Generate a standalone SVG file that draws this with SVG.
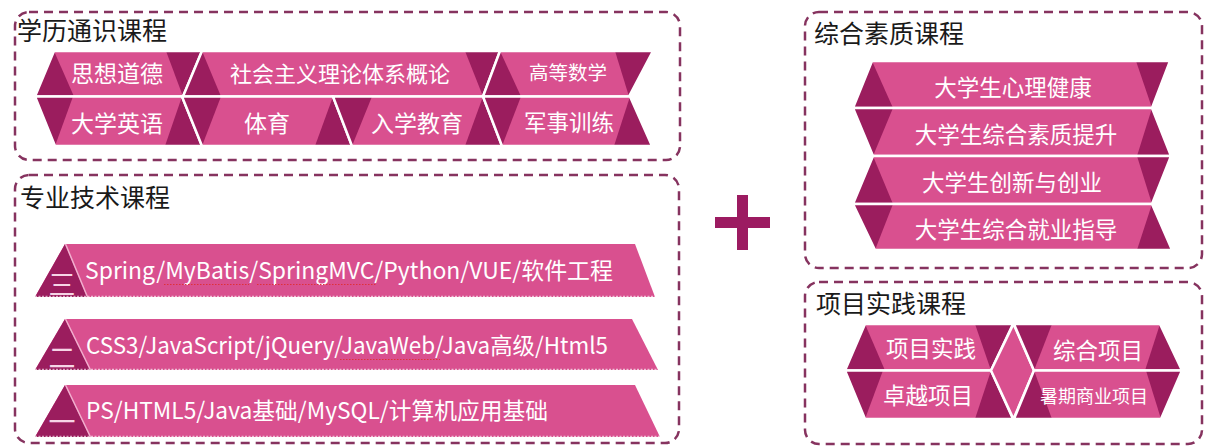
<svg xmlns="http://www.w3.org/2000/svg" width="1205" height="447" viewBox="0 0 1205 447">
<style>
.pk{fill:#D9508F}
.dk{fill:#9B1D5E}
.sep{fill:none;stroke:#fff;stroke-width:2.5;stroke-linejoin:miter}
.box{fill:none;stroke:#86335F;stroke-width:2.5;stroke-dasharray:9 6}
.ttl{font-family:"Noto Sans CJK SC",sans-serif;font-size:25px;fill:#1a1a1a}
.lbl{font-family:"Noto Sans CJK SC",sans-serif;fill:#fff;text-anchor:middle}
.bt{font-family:"Noto Sans CJK SC",sans-serif;font-size:23px;fill:#fff}
.num{font-family:"Noto Sans CJK SC",sans-serif;font-size:27px;fill:#F6D5E6;text-anchor:middle}
.edge{stroke:#F2AFCF;stroke-width:1.5;fill:none}
.dots{stroke:#fff;stroke-width:1;stroke-dasharray:2 1.5;opacity:0.8}
.sq{stroke:#E0303A;stroke-width:1.2;stroke-dasharray:1.5 1.5;fill:none}
</style>
<rect width="1205" height="447" fill="#fff"/>

<!-- Box 1 -->
<g id="box-general">
<rect class="box" x="15" y="12" width="665" height="148" rx="14"/>
<text class="ttl" x="17" y="40">学历通识课程</text>
</g>
<g id="c-sxdd">
<polygon class="pk" points="54,51 202,51 183,96.5 35,96.5"/>
<polygon class="dk" points="54,51 35,96.5 74,96.5"/>
<polygon class="dk" points="166,51 202,51 183,96.5"/>
<polygon class="sep" points="54,51 202,51 183,96.5 35,96.5"/>
<text class="lbl" x="117" y="81.5" font-size="23">思想道德</text>
</g>
<g id="c-shzy">
<polygon class="pk" points="202,51 500,51 483,96.5 183,96.5"/>
<polygon class="dk" points="202,51 183,96.5 221,96.5"/>
<polygon class="dk" points="465,51 500,51 483,96.5"/>
<polygon class="sep" points="202,51 500,51 483,96.5 183,96.5"/>
<text class="lbl" x="340" y="82" font-size="22">社会主义理论体系概论</text>
</g>
<g id="c-gdsx">
<polygon class="pk" points="500,51 653,51 629,96.5 483,96.5"/>
<polygon class="dk" points="500,51 483,96.5 521,96.5"/>
<polygon class="dk" points="615,51 653,51 629,96.5"/>
<polygon class="sep" points="500,51 653,51 629,96.5 483,96.5"/>
<text class="lbl" x="568" y="80.2" font-size="19.5">高等数学</text>
</g>
<g id="c-dxyy">
<polygon class="pk" points="35,96.5 182,96.5 202,146 55,146"/>
<polygon class="dk" points="35,96.5 73,96.5 55,146"/>
<polygon class="dk" points="182,96.5 165,146 202,146"/>
<polygon class="sep" points="35,96.5 182,96.5 202,146 55,146"/>
<text class="lbl" x="117" y="131.5" font-size="23">大学英语</text>
</g>
<g id="c-ty">
<polygon class="pk" points="182,96.5 333,96.5 352,146 202,146"/>
<polygon class="dk" points="182,96.5 221,96.5 202,146"/>
<polygon class="dk" points="333,96.5 315,146 352,146"/>
<polygon class="sep" points="182,96.5 333,96.5 352,146 202,146"/>
<text class="lbl" x="267" y="131.5" font-size="23">体育</text>
</g>
<g id="c-rxjy">
<polygon class="pk" points="333,96.5 483,96.5 502,146 352,146"/>
<polygon class="dk" points="333,96.5 372,96.5 352,146"/>
<polygon class="dk" points="483,96.5 465,146 502,146"/>
<polygon class="sep" points="333,96.5 483,96.5 502,146 352,146"/>
<text class="lbl" x="417" y="131.5" font-size="23">入学教育</text>
</g>
<g id="c-jsxl">
<polygon class="pk" points="483,96.5 630,96.5 652,146 502,146"/>
<polygon class="dk" points="483,96.5 521,96.5 502,146"/>
<polygon class="dk" points="630,96.5 614,146 652,146"/>
<polygon class="sep" points="483,96.5 630,96.5 652,146 502,146"/>
<text class="lbl" x="569" y="131.3" font-size="22.5">军事训练</text>
</g>

<!-- Box 2 -->
<g id="box-tech">
<rect class="box" x="15" y="175" width="664" height="268" rx="14"/>
<text class="ttl" x="20" y="206.5">专业技术课程</text>
</g>
<g id="bar-3">
<polygon class="pk" points="65,244 635,244 655,297 35,297"/>
<polygon class="dk" points="65,244 35,297 87,297"/>
<line class="edge" x1="65.5" y1="244" x2="87.5" y2="297"/>
<line class="dots" x1="35" y1="296.3" x2="655" y2="296.3"/>
<text class="num" x="62" y="294.6">三</text>
<text class="bt" x="85" y="279" textLength="528" lengthAdjust="spacingAndGlyphs">Spring/MyBatis/SpringMVC/Python/VUE/软件工程</text>
<path class="sq" d="M164,284.5 H249 M257,284.5 H377"/>
</g>
<g id="bar-2">
<polygon class="pk" points="65,319 632,319 658,370 35,370"/>
<polygon class="dk" points="65,319 35,370 90,370"/>
<line class="edge" x1="65.5" y1="319" x2="90.5" y2="370"/>
<line class="dots" x1="35" y1="369.3" x2="658" y2="369.3"/>
<text class="num" x="62" y="368">二</text>
<text class="bt" x="86" y="354" textLength="522" lengthAdjust="spacingAndGlyphs">CSS3/JavaScript/jQuery/JavaWeb/Java高级/Html5</text>
<path class="sq" d="M340,359.5 H440"/>
</g>
<g id="bar-1">
<polygon class="pk" points="65,385 635,385 660,437 35,437"/>
<polygon class="dk" points="65,385 35,437 90,437"/>
<line class="edge" x1="65.5" y1="385" x2="90.5" y2="437"/>
<line class="dots" x1="35" y1="436.3" x2="660" y2="436.3"/>
<text class="num" x="62" y="432">一</text>
<text class="bt" x="86" y="419" textLength="462" lengthAdjust="spacingAndGlyphs">PS/HTML5/Java基础/MySQL/计算机应用基础</text>
</g>

<!-- Plus -->
<g id="plus">
<rect x="737" y="195" width="11" height="55" fill="#9C1B61"/>
<rect x="715" y="217" width="55" height="11" fill="#9C1B61"/>
</g>

<!-- Box 3 -->
<g id="box-quality">
<rect class="box" x="805" y="12" width="397" height="256" rx="14"/>
<text class="ttl" x="814" y="43">综合素质课程</text>
</g>
<g id="q-1">
<polygon class="pk" points="872,61 1170,61 1152,108 853,108"/>
<polygon class="dk" points="872,61 853,108 893,108"/>
<polygon class="dk" points="1136,61 1170,61 1152,108"/>
<polygon class="sep" points="872,61 1170,61 1152,108 853,108"/>
<text class="lbl" x="1013" y="95.8" font-size="22.5">大学生心理健康</text>
</g>
<g id="q-2">
<polygon class="pk" points="853,108 1152,108 1171,156 873,156"/>
<polygon class="dk" points="853,108 893,108 873,156"/>
<polygon class="dk" points="1152,108 1137,156 1171,156"/>
<polygon class="sep" points="853,108 1152,108 1171,156 873,156"/>
<text class="lbl" x="1016" y="143.3" font-size="22.5">大学生综合素质提升</text>
</g>
<g id="q-3">
<polygon class="pk" points="873,156 1171,156 1152,204 853,204"/>
<polygon class="dk" points="873,156 853,204 893,204"/>
<polygon class="dk" points="1137,156 1171,156 1152,204"/>
<polygon class="sep" points="873,156 1171,156 1152,204 853,204"/>
<text class="lbl" x="1012" y="191.3" font-size="22.5">大学生创新与创业</text>
</g>
<g id="q-4">
<polygon class="pk" points="853,204 1152,204 1172,250 875,250"/>
<polygon class="dk" points="853,204 893,204 875,250"/>
<polygon class="dk" points="1152,204 1137,250 1172,250"/>
<polygon class="sep" points="853,204 1152,204 1172,250 875,250"/>
<text class="lbl" x="1016" y="238.3" font-size="22.5">大学生综合就业指导</text>
</g>

<!-- Box 4 -->
<g id="box-project">
<rect class="box" x="805" y="282" width="397" height="162" rx="14"/>
<text class="ttl" x="816" y="313">项目实践课程</text>
</g>
<g id="p-xmsj">
<polygon class="pk" points="865,324 1013,324 991,370.5 845,370.5"/>
<polygon class="dk" points="865,324 845,370.5 885,370.5"/>
<polygon class="dk" points="975,324 1013,324 991,370.5"/>
<polygon class="sep" points="865,324 1013,324 991,370.5 845,370.5"/>
<text class="lbl" x="931" y="357.3" font-size="22.5">项目实践</text>
</g>
<g id="p-zyxm">
<polygon class="pk" points="845,370.5 991,370.5 1013,419 865,419"/>
<polygon class="dk" points="845,370.5 883,370.5 865,419"/>
<polygon class="dk" points="991,370.5 975,419 1013,419"/>
<polygon class="sep" points="845,370.5 991,370.5 1013,419 865,419"/>
<text class="lbl" x="928" y="404.3" font-size="22.5">卓越项目</text>
</g>
<g id="p-diamond">
<polygon class="pk" points="1013.5,324 1034,370.5 1013.5,419 991,370.5"/>
<polygon class="sep" points="1013.5,324 1034,370.5 1013.5,419 991,370.5"/>
</g>
<g id="p-zhxm">
<polygon class="pk" points="1014,324 1160,324 1182,370.5 1034,370.5"/>
<polygon class="dk" points="1014,324 1052,324 1034,370.5"/>
<polygon class="dk" points="1160,324 1145,370.5 1182,370.5"/>
<polygon class="sep" points="1014,324 1160,324 1182,370.5 1034,370.5"/>
<text class="lbl" x="1098" y="359.3" font-size="22.5">综合项目</text>
</g>
<g id="p-sqsy">
<polygon class="pk" points="1034,370.5 1182,370.5 1161,419 1014,419"/>
<polygon class="dk" points="1034,370.5 1014,419 1052,419"/>
<polygon class="dk" points="1146,370.5 1182,370.5 1161,419"/>
<polygon class="sep" points="1034,370.5 1182,370.5 1161,419 1014,419"/>
<text class="lbl" x="1094" y="402.7" font-size="18">暑期商业项目</text>
</g>
</svg>
